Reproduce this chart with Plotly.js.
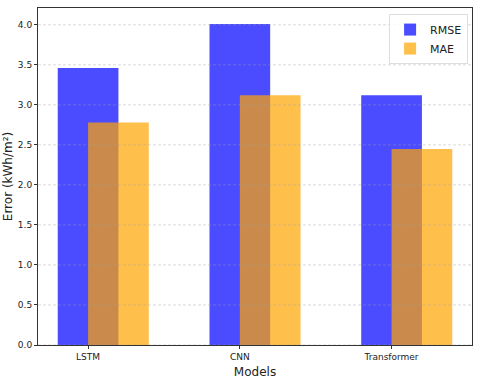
<!DOCTYPE html>
<html>
<head>
<meta charset="utf-8">
<script src="https://cdn.plot.ly/plotly-3.0.1.min.js"></script>
<style>
  body { margin: 0; background: #fff; }
  #chart { width: 480px; height: 383px; }
</style>
</head>
<body>
<div id="chart"></div>
<script>
// values
var models = ["LSTM", "CNN", "Transformer"];
var rmseValues = [3.46, 4.01, 3.12];
var maeValues = [2.78, 3.12, 2.45];
var yTicks = [0, 0.5, 1, 1.5, 2, 2.5, 3, 3.5, 4];

var barWidth = 0.4;
var pos = models.map((m, i) => i);
var maePos = pos.map(p => p + barWidth / 2);

var rmseTrace = {
  x: pos,
  y: rmseValues,
  type: "bar",
  name: "RMSE",
  width: barWidth,
  opacity: 0.7,
  marker: { color: "#0000ff" }
};
var maeTrace = {
  x: maePos,
  y: maeValues,
  type: "bar",
  name: "MAE",
  width: barWidth,
  opacity: 0.7,
  marker: { color: "#ffa500" }
};

// dashed grid drawn over the bars like matplotlib does
var gridShapes = yTicks.map(v => ({
  type: "line", xref: "paper", yref: "y",
  x0: 0, x1: 1, y0: v, y1: v,
  layer: "above",
  line: { color: "rgba(160,160,160,0.5)", width: 0.8, dash: "3px,2px" }
}));

var layout = {
  width: 480,
  height: 383,
  margin: { l: 38, r: 8, t: 8, b: 38 },
  paper_bgcolor: "#fff",
  plot_bgcolor: "#fff",
  font: { family: "DejaVu Sans", size: 9, color: "#222" },
  barmode: "overlay",
  showlegend: true,
  legend: {
    x: 0.991, y: 0.982, xanchor: "right", yanchor: "top",
    bgcolor: "rgba(255,255,255,0.8)",
    bordercolor: "#ddd", borderwidth: 1,
    font: { size: 11 }
  },
  xaxis: {
    range: [-0.33, 2.53],
    tickvals: pos,
    ticktext: models,
    showgrid: false,
    zeroline: false,
    showline: true, mirror: true,
    linecolor: "#333", linewidth: 1,
    ticks: "outside", ticklen: 3, tickcolor: "#333",
    title: { text: "Models", font: { size: 12 }, standoff: 6 }
  },
  yaxis: {
    range: [0, 4.21],
    tickvals: yTicks,
    tickformat: ".1f",
    showgrid: false,
    zeroline: false,
    showline: true, mirror: true,
    linecolor: "#333", linewidth: 1,
    ticks: "outside", ticklen: 3, tickcolor: "#333",
    title: { text: "Error (kWh/m²)", font: { size: 12 }, standoff: 2 }
  },
  shapes: gridShapes
};

Plotly.newPlot("chart", [rmseTrace, maeTrace], layout, { displayModeBar: false });
</script>
</body>
</html>
